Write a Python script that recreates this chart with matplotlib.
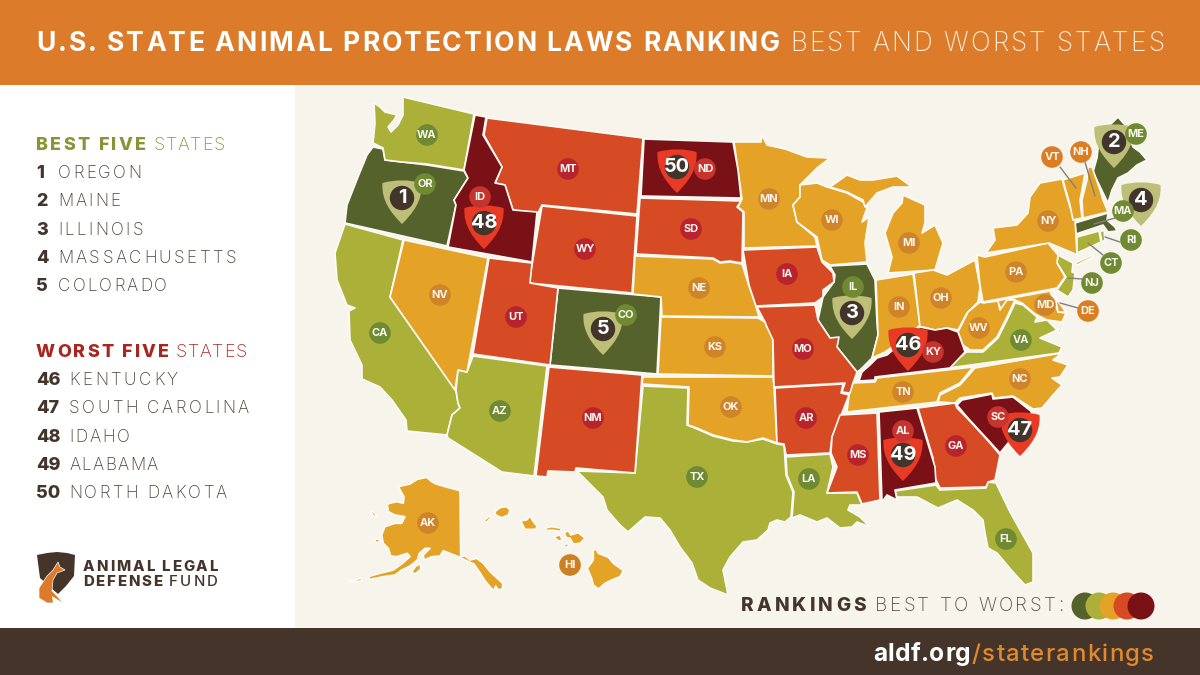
import matplotlib
matplotlib.use("Agg")
import matplotlib.pyplot as plt
from matplotlib.patches import Polygon, Circle, PathPatch, Rectangle
from matplotlib.path import Path
from matplotlib.text import Text
from matplotlib.transforms import Bbox, IdentityTransform

# ---------- data ----------
TITLE_BOLD = "U.S. STATE ANIMAL PROTECTION LAWS RANKING"
TITLE_LIGHT = "BEST AND WORST STATES"
BEST_STATES = ["OREGON", "MAINE", "ILLINOIS", "MASSACHUSETTS", "COLORADO"]
BEST_RANKS = ["1", "2", "3", "4", "5"]
WORST_STATES = ["KENTUCKY", "SOUTH CAROLINA", "IDAHO", "ALABAMA", "NORTH DAKOTA"]
WORST_RANKS = ["46", "47", "48", "49", "50"]

TIER_COLORS = ["#56622c", "#abb038", "#e4a326", "#d64a24", "#7a1117"]
BUBBLE_COLORS = ["#6f8a32", "#6f8a32", "#d0842a", "#b8232e", "#c5342f"]

TIER_STATES = {
    0: ["OR", "ME", "IL", "MA", "CO"],
    1: ["WA", "CA", "AZ", "TX", "LA", "FL", "VA", "NJ", "CT", "RI"],
    2: ["NV", "NE", "KS", "OK", "MN", "WI", "MI", "IN", "OH", "PA", "NY", "VT", "NH",
        "MD", "DE", "WV", "NC", "TN", "AK", "HI"],
    3: ["MT", "WY", "UT", "NM", "SD", "IA", "MO", "AR", "MS", "GA"],
    4: ["ID", "ND", "KY", "SC", "AL"],
}

def from_crop(x0, y0, pts):
    return [(x0 + x / 3, y0 + y / 3) for x, y in pts]

AK_MAIN = [(205,440),(240,432),(262,418),(290,412),(305,425),(318,432),(345,440),(390,452),(392,650),(405,648),(420,660),(440,655),(460,670),(480,695),(505,718),(518,730),(518,745),(505,750),(497,738),(492,752),(480,740),(465,722),(448,695),(432,672),(410,662),(385,650),(340,632),(330,648),(305,650),(282,660),(280,645),(300,625),(285,625),(268,640),(262,660),(240,678),(215,690),(195,705),(160,710),(120,718),(115,710),(150,700),(190,690),(215,672),(240,650),(232,640),(200,650),(182,648),(175,625),(160,610),(155,585),(165,560),(195,550),(215,550),(225,530),(195,525),(175,515),(172,492),(200,485),(220,490),(222,470)]
AK_ISLANDS = [[(245,695),(258,678),(272,672),(272,688),(255,702)],
              [(57,725),(75,720),(92,715),(97,722),(75,725)],
              [(122,512),(130,515),(142,530),(130,528)],
              [(132,598),(145,597),(150,605),(140,608)]]
HI_ISLANDS = [[(790,628),(800,630),(805,640),(835,652),(850,670),(880,692),(870,710),(845,720),(825,730),(805,747),(790,735),(785,715),(772,685),(790,660)],
              [(703,578),(715,572),(722,585),(745,578),(765,595),(750,610),(730,612),(720,595),(708,592)],
              [(572,542),(590,540),(600,528),(610,545),(622,560),(615,568),(585,568)],
              [(495,515),(510,503),(530,500),(540,510),(535,525),(515,533),(497,525)],
              [(462,542),(478,528),(483,532),(470,547)],
              [(645,565),(665,560),(695,565),(690,574),(665,570),(650,572)],
              [(672,590),(690,585),(697,600),(685,603)],
              [(700,617),(712,610),(717,618),(705,622)]]

OUTLINES = {
 "WA": [[(374,103),(380,107),(385,112),(397,115),(394,120),(388,127),(391,132),(398,125),(403,115),(403,97),(474,114),(464,170),(427,164),(402,162),(385,160),(383,148),(373,143),(375,123)]],
 "OR": [[(373,147),(383,149),(385,160),(402,162),(427,165),(464,171),(468,178),(454,200),(456,205),(447,246),(345,223),(347,205),(358,177),(367,155)]],
 "CA": [[(345,224),(403,240),(390,297),(456,391),(458,403),(460,408),(452,415),(447,435),(407,431),(406,420),(392,400),(380,387),(362,379),(362,365),(350,340),(349,311),(355,308),(347,305),(337,280),(335,253)]],
 "NV": [[(404,240),(488,258),(473,340),(467,372),(458,370),(455,390),(390,297)]],
 "UT": [[(489,258),(532,263),(530,283),(558,288),(550,365),(473,354)]],
 "ID": [[(475,115),(486,117),(483,135),(502,167),(495,183),(505,185),(513,210),(537,212),(532,262),(448,247),(456,205),(454,200),(468,178),(464,170)]],
 "MT": [[(487,118),(643,138),(637,214),(542,205),(538,213),(513,210),(505,185),(495,183),(502,167),(484,135)]],
 "WY": [[(542,206),(637,216),(632,293),(529,283)]],
 "CO": [[(558,288),(661,297),(657,374),(550,365)]],
 "NM": [[(549,367),(642,375),(635,473),(576,468),(575,472),(548,471),(547,477),(536,476)]],
 "AZ": [[(473,356),(547,366),(534,476),(502,472),(448,438),(447,435),(452,415),(460,408),(458,403),(456,390),(458,370),(467,372)]],
 "ND": [[(644,139),(733,142),(738,170),(741,198),(641,196)]],
 "SD": [[(640,198),(741,201),(737,207),(743,212),(742,263),(730,261),(720,262),(713,258),(636,254)]],
 "NE": [[(635,256),(713,259),(720,263),(730,262),(742,264),(748,283),(755,303),(759,317),(662,316),(661,297),(633,294)]],
 "KS": [[(661,317),(758,318),(765,322),(767,327),(773,337),(773,376),(658,374)]],
 "OK": [[(643,377),(773,377),(774,387),(777,443),(763,438),(747,442),(733,440),(713,435),(697,428),(688,425),(689,387),(642,384)]],
 "TX": [[(643,386),(688,388),(687,425),(697,429),(713,436),(733,441),(747,442),(763,439),(777,444),(784,445),(786,475),(793,492),(791,517),(785,522),(777,520),(770,523),(768,530),(757,540),(743,542),(730,557),(723,570),(728,595),(710,588),(698,580),(692,563),(680,547),(670,530),(660,518),(645,517),(628,532),(620,525),(607,510),(603,497),(577,471),(635,473)]],
 "MN": [[(734,142),(761,142),(762,135),(767,145),(785,149),(807,157),(830,158),(817,168),(800,185),(800,197),(793,205),(797,222),(815,237),(817,246),(744,248),(744,212),(738,207),(742,199),(738,170)]],
 "IA": [[(743,250),(817,247),(822,262),(833,273),(834,282),(823,290),(823,297),(815,303),(756,306),(749,285)]],
 "MO": [[(757,307),(815,305),(818,320),(830,338),(839,337),(837,347),(857,372),(853,383),(850,393),(842,392),(845,383),(774,387),(773,340),(767,327),(765,322)]],
 "AR": [[(775,388),(843,384),(841,393),(849,395),(840,418),(832,437),(830,453),(786,455),(784,444),(777,443)]],
 "LA": [[(786,457),(830,454),(833,467),(827,493),(857,493),(862,505),(850,505),(848,510),(860,517),(870,527),(857,522),(852,527),(840,528),(827,518),(817,522),(800,515),(792,518),(794,492),(787,475)]],
 "MS": [[(840,415),(877,413),(880,500),(862,504),(857,492),(827,493),(837,467),(831,453),(832,437)]],
 "AL": [[(879,412),(917,408),(935,467),(936,483),(895,490),(897,500),(887,495),(882,502)]],
 "GA": [[(918,408),(955,403),(957,408),(967,418),(990,443),(1000,455),(995,480),(988,482),(986,487),(940,488),(935,478),(933,458)]],
 "FL": [[(895,491),(936,485),(940,490),(986,488),(988,482),(996,483),(1010,512),(1033,553),(1033,582),(1025,585),(1013,572),(997,553),(988,548),(985,533),(983,520),(973,510),(957,500),(938,508),(917,497),(897,497)]],
 "SC": [[(957,405),(962,400),(992,394),(993,399),(1013,397),(1032,412),(1013,437),(1000,453),(990,442),(967,417)]],
 "NC": [[(938,402),(940,395),(960,385),(975,368),(1062,353),(1053,360),(1068,365),(1060,377),(1052,378),(1062,385),(1053,395),(1042,408),(1033,409),(1013,396),(994,398),(992,393),(960,398),(955,403)]],
 "TN": [[(853,383),(875,382),(877,378),(973,367),(960,383),(940,393),(937,402),(847,412),(849,395)]],
 "KY": [[(859,381),(862,372),(870,365),(877,358),(887,355),(905,340),(920,327),(935,330),(947,328),(958,332),(963,346),(965,352),(950,368),(875,377),(875,380)]],
 "IL": [[(830,266),(867,264),(875,280),(877,323),(878,335),(872,358),(868,362),(860,370),(857,372),(837,347),(838,338),(830,338),(818,320),(823,297),(834,282),(835,275)]],
 "IN": [[(876,280),(913,274),(920,325),(905,338),(885,352),(872,358),(878,335)]],
 "OH": [[(914,273),(933,270),(947,275),(975,260),(980,287),(978,302),(967,313),(958,330),(947,328),(935,330),(923,327),(920,327)]],
 "MI": [[(903,195),(925,205),(925,223),(922,233),(935,225),(943,243),(935,270),(888,273),(892,257),(885,233),(893,213),(902,203)],
        [(830,187),(847,175),(860,180),(873,180),(897,176),(912,187),(893,187),(877,193),(865,207),(863,200),(847,192)]],
 "WI": [[(800,185),(817,183),(827,187),(847,193),(863,202),(867,208),(862,222),(869,217),(865,243),(867,262),(830,265),(822,260),(817,237),(797,222),(793,205),(800,197)]],
 "PA": [[(977,255),(985,257),(1048,243),(1058,255),(1057,263),(1065,277),(1057,288),(983,302),(980,285)]],
 "NY": [[(986,253),(995,240),(993,228),(1017,225),(1028,213),(1030,197),(1040,183),(1062,179),(1067,197),(1070,207),(1075,218),(1077,255),(1073,253),(1049,243)],
        [(1075,263),(1093,255),(1093,257),(1077,265)]],
 "VT": [[(1063,180),(1085,173),(1082,190),(1080,200),(1082,218),(1073,220),(1070,205)]],
 "NH": [[(1088,167),(1092,167),(1100,190),(1103,200),(1108,212),(1083,218),(1082,200),(1087,180)]],
 "ME": [[(1093,172),(1097,158),(1099,140),(1103,125),(1111,124),(1118,117),(1125,125),(1133,147),(1140,152),(1147,160),(1137,165),(1128,173),(1118,178),(1112,190),(1108,203)]],
 "MA": [[(1075,223),(1108,213),(1107,220),(1115,227),(1117,231),(1108,232),(1103,225),(1076,234)]],
 "RI": [[(1100,232),(1104,230),(1105,240),(1102,242)]],
 "CT": [[(1077,237),(1099,231),(1101,242),(1077,253)]],
 "NJ": [[(1058,255),(1073,263),(1072,272),(1075,273),(1073,290),(1068,297),(1057,290),(1066,277),(1057,263)]],
 "DE": [[(1054,290),(1057,300),(1066,312),(1058,312)]],
 "MD": [[(985,303),(1050,291),(1058,312),(1066,313),(1062,322),(1047,320),(1035,314),(1022,303),(1010,298),(1002,311),(998,303)]],
 "WV": [[(983,303),(998,301),(1000,310),(1007,300),(1015,300),(1007,317),(997,337),(983,350),(970,350),(963,345),(958,332),(968,312),(980,302)]],
 "VA": [[(1015,303),(1023,305),(1037,317),(1035,322),(1047,320),(1057,330),(1040,338),(1062,347),(1059,353),(948,368),(965,353),(967,352),(983,352),(998,338),(1008,318)],
        [(1063,323),(1060,333),(1058,333),(1061,323)]],
 "AK": [from_crop(330, 340, p) for p in [AK_MAIN] + AK_ISLANDS],
 "HI": [from_crop(330, 340, p) for p in HI_ISLANDS],
}

LABELS = {"WA":(427,135),"OR":(425,184),"ID":(480,197),"MT":(568,169),"WY":(585,249),"UT":(516,317),"NV":(440,295),
 "CA":(380,333),"AZ":(500,411),"NM":(593,418),"CO":(626,315),"ND":(705,169),"SD":(691,229),"NE":(699,288),"KS":(715,347),
 "OK":(731,407),"TX":(697,477),"MN":(769,199),"IA":(787,274),"MO":(803,349),"AR":(806,418),"LA":(809,479),"MS":(858,455),
 "AL":(903,431),"TN":(903,392),"KY":(933,352),"IL":(853,287),"IN":(899,307),"OH":(941,298),"MI":(909,243),"WI":(832,220),
 "GA":(956,446),"FL":(1006,539),"SC":(998,417),"NC":(1020,379),"VA":(1021,340),"WV":(979,328),"MD":(1045,305),"DE":(1088,311),
 "PA":(1016,272),"NJ":(1092,283),"NY":(1048,221),"CT":(1111,263),"RI":(1131,240),"MA":(1123,211),"ME":(1136,134),"NH":(1081,152),
 "VT":(1052,157),"AK":(428,523),"HI":(570,565)}

LEADERS = {"VT":((1060,167),(1076,188)),"NH":((1085,162),(1095,196)),"MA":((1115,218),(1094,224)),"RI":((1120,242),(1105,237)),
 "CT":((1103,255),(1088,243)),"NJ":((1082,279),(1068,278)),"DE":((1078,308),(1060,303))}

SHIELDS = {"OR":("1",402,198),"ME":("2",1114,142),"IL":("3",852,313),"MA":("4",1141,200),"CO":("5",603,329),
 "KY":("46",908,345),"SC":("47",1020,430),"ID":("48",484,223),"AL":("49",903,455),"ND":("50",677,167)}
SHIELD_BEST = "#bdbe78"
SHIELD_WORST = "#e93a26"
INK = "#42352c"
FONT = "Inter"

# ---------- helpers ----------
def px(size):
    return size * 0.72

class TrackedText(Text):
    """One text item stretched by letter spacing to a given pixel width."""
    def __init__(self, x, y, text, width_px, **kw):
        super().__init__(x, y, text, ha="left", va="baseline", **kw)
        self.width_px = width_px
    def _w(self, renderer, s):
        return renderer.get_text_width_height_descent(s, self.get_fontproperties(), False)[0]
    def _offsets(self, renderer):
        s = self.get_text()
        n = max(len(s) - 1, 1)
        track = (self.width_px - self._w(renderer, s)) / n
        out = [0.0]
        for i in range(1, len(s)):
            out.append(self._w(renderer, s[:i + 1]) - self._w(renderer, s[i]) + i * track)
        return out
    def draw(self, renderer):
        x, y = self.get_transform().transform(self.get_position())
        for ch, off in zip(self.get_text(), self._offsets(renderer)):
            if ch == " ":
                continue
            t = Text(x + off, y, ch, color=self.get_color(), fontproperties=self.get_fontproperties(),
                     ha="left", va="baseline", transform=IdentityTransform())
            t.set_figure(self.get_figure())
            t.draw(renderer)
    def get_window_extent(self, renderer=None, dpi=None):
        renderer = renderer or self.get_figure().canvas.get_renderer()
        x, y = self.get_transform().transform(self.get_position())
        _, h, d = renderer.get_text_width_height_descent(self.get_text(), self.get_fontproperties(), False)
        return Bbox([[x, y - d], [x + self.width_px, y + h - d]])

fig = plt.figure(figsize=(12, 6.75), dpi=100, facecolor="#ffffff")
ax = fig.add_axes([0, 0, 1, 1])
ax.set_xlim(0, 1200)
ax.set_ylim(675, 0)
ax.axis("off")

def tracked(x0, x1, base, s, size, weight, color):
    t = TrackedText(x0, base, s, x1 - x0, color=color, fontsize=px(size), fontweight=weight,
                    fontfamily=FONT, transform=ax.transData, zorder=20)
    ax.add_artist(t)
    return t

# ---------- panels ----------
ax.add_patch(Rectangle((295, 85), 905, 543, fc="#f7f4ec", ec="none", zorder=0))
ax.add_patch(Rectangle((0, 0), 1200, 85, fc="#dc7b29", ec="none", zorder=1))
ax.add_patch(Rectangle((0, 628), 1200, 47, fc="#45342a", ec="none", zorder=1))

# ---------- map ----------
for tier, states in TIER_STATES.items():
    for st in states:
        for part in OUTLINES[st]:
            ax.add_patch(Polygon(part, closed=True, fc=TIER_COLORS[tier], ec="#fbfaf5", lw=1.2, joinstyle="round", zorder=3))

for (a, b) in LEADERS.values():
    ax.plot([a[0], b[0]], [a[1], b[1]], color="#7f8180", lw=1.0, zorder=4, solid_capstyle="round")

def shield_path(cx, cy):
    v = [(-19.5, -15), (-7, -18.5), (7, -18.5), (19.5, -15), (21, 3), (10, 16), (0, 26), (-10, 16), (-21, 3), (-19.5, -15), (-19.5, -15)]
    c = [Path.MOVETO, Path.CURVE4, Path.CURVE4, Path.CURVE4, Path.CURVE4, Path.CURVE4, Path.CURVE4, Path.CURVE4, Path.CURVE4, Path.CURVE4, Path.CLOSEPOLY]
    return Path([(cx + x, cy + y) for x, y in v], c)

for st, (rank, cx, cy) in SHIELDS.items():
    col = SHIELD_BEST if int(rank) <= 5 else SHIELD_WORST
    ax.add_patch(PathPatch(shield_path(cx, cy), fc=col, ec="none", zorder=5))
    ax.add_patch(Circle((cx, cy), 12.2, fc=INK, ec="none", zorder=6))
    ax.text(cx, cy + 0.3, rank, color="white", fontsize=px(20), fontweight="bold", family=FONT, ha="center", va="center", zorder=7)

for tier, states in TIER_STATES.items():
    for st in states:
        x, y = LABELS[st]
        col = BUBBLE_COLORS[tier]
        if st in LEADERS:
            col = "#6f8a32" if tier <= 1 else "#db7d22"
        if st == "HI":
            col = "#cd7f24"
        ax.add_patch(Circle((x, y), 10.8, fc=col, ec="none", zorder=8))
        ax.text(x, y + 0.3, st, color="#fbf7ee", fontsize=px(11), fontweight="bold", family=FONT, ha="center", va="center", zorder=9)

# ---------- header and footer ----------
tracked(36, 780, 51, TITLE_BOLD, 26.5, "bold", "white")
tracked(790, 1164, 51, TITLE_LIGHT, 26, "light", "#fbeedc")
tracked(873, 971, 661, "aldf.org", 24.5, "bold", "white")
tracked(972, 1154, 661, "/staterankings", 24, "medium", "#e08a2c")

# ---------- left lists ----------
tracked(36, 146, 150, "BEST FIVE", 18, "heavy", "#8a9437")
tracked(154, 225, 150, "STATES", 18, "light", "#8a9437")
NAME_WIDTHS_BEST = [83, 62, 85, 178, 109]
for i, (r, s, w) in enumerate(zip(BEST_RANKS, BEST_STATES, NAME_WIDTHS_BEST)):
    base = 178 + i * 28.3
    ax.text(36, base, r, color=INK, fontsize=px(18), fontweight="heavy", family=FONT, ha="left", va="baseline", zorder=20)
    tracked(58, 58 + w, base, s, 17, "light", "#4c4038")

tracked(36, 169, 357, "WORST FIVE", 18, "heavy", "#a8261f")
tracked(176, 247, 357, "STATES", 18, "light", "#a8261f")
NAME_WIDTHS_WORST = [109, 180, 61, 89, 158]
for i, (r, s, w) in enumerate(zip(WORST_RANKS, WORST_STATES, NAME_WIDTHS_WORST)):
    base = 385 + i * 28.3
    ax.text(36, base, r, color=INK, fontsize=px(18), fontweight="heavy", family=FONT, ha="left", va="baseline", zorder=20)
    tracked(69, 69 + w, base, s, 17, "light", "#4c4038")

# ---------- logo ----------
ax.add_patch(Polygon([(37,555),(47,553),(57,552),(67,553),(75,555),(74,576),(66,586),(58,594),(40,578)], closed=True, fc="#45342a", ec="none", zorder=5))
ax.add_patch(Polygon([(58,562),(60,567),(65,570),(57,573),(53,580),(52,591),(57,596),(63,603),(47,603),(39,598),(39,588),(47,576),(53,570)], closed=True, fc="#dc7b29", ec="#ffffff", lw=0.5, zorder=6))
ax.add_patch(Polygon([(52,596),(63,603),(53,603)], closed=True, fc="#ffffff", ec="none", zorder=7))
tracked(83, 218, 571, "ANIMAL LEGAL", 15, "heavy", "#45342a")
tracked(83, 162, 586, "DEFENSE", 15, "heavy", "#45342a")
tracked(169, 218, 586, "FUND", 15, "medium", "#45342a")

# ---------- rankings legend ----------
tracked(741, 866, 611, "RANKINGS", 19, "heavy", INK)
tracked(875, 1063, 611, "BEST TO WORST:", 19, "light", "#5b5048")
LEGEND_CENTERS = [1085, 1099, 1113, 1127, 1141]
for cx, col in zip(LEGEND_CENTERS, TIER_COLORS):
    ax.add_patch(Circle((cx, 606), 13.5, fc=col, ec="none", zorder=5))

fig.savefig("out.png", dpi=100, facecolor=fig.get_facecolor())
